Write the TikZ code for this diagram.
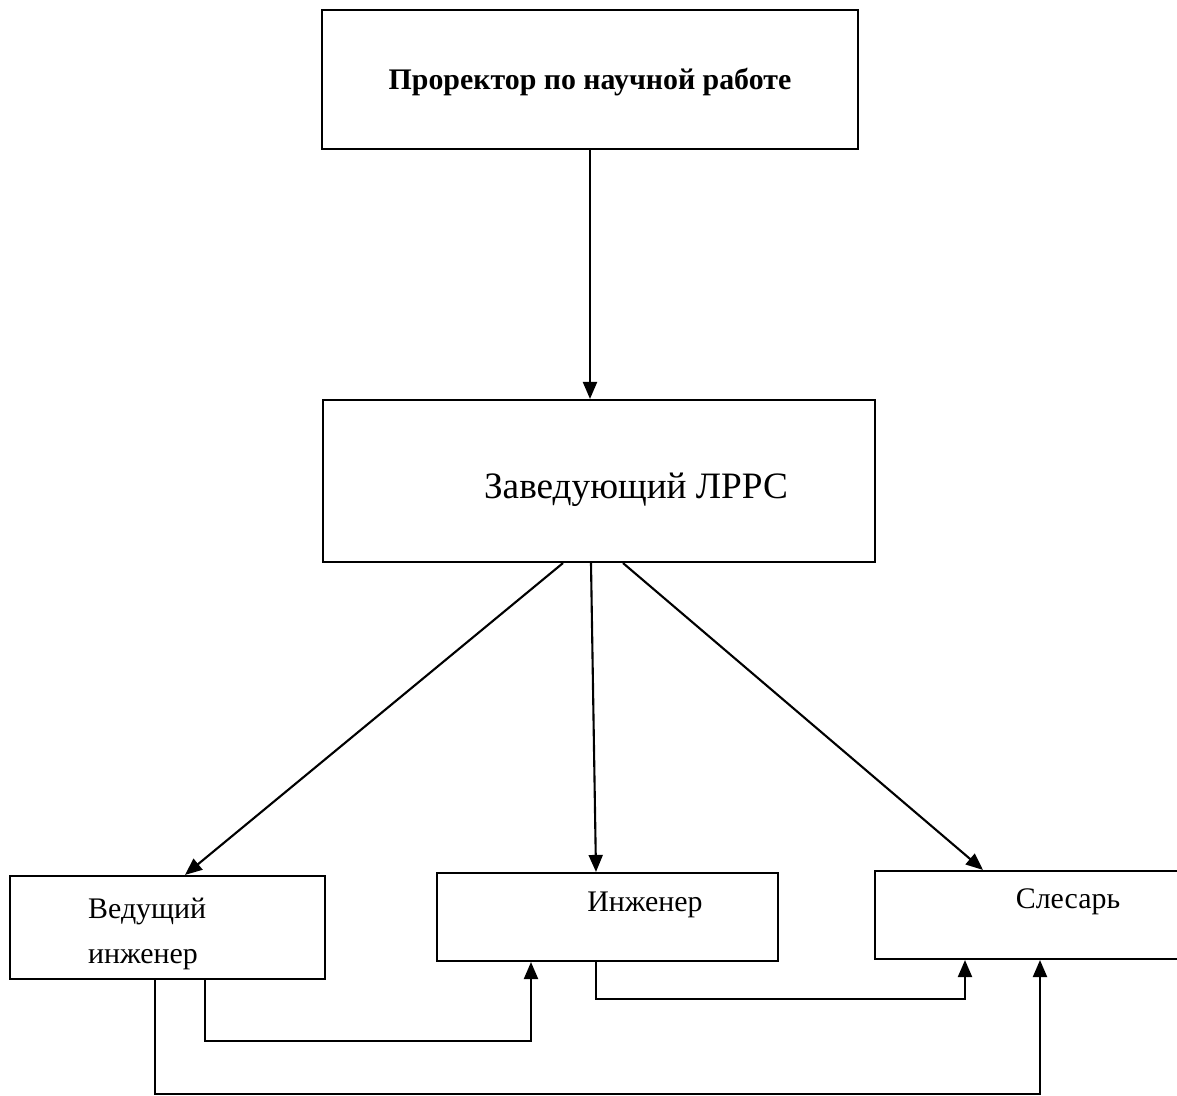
\documentclass[tikz,border=0pt]{standalone}
\usepackage{fontspec}
\setmainfont{Liberation Serif}
\usetikzlibrary{arrows.meta}

\tikzset{
	box/.style={draw, line width=1.2pt, inner sep=0pt},
	arr/.style={line width=1.2pt, -{Triangle[length=3.4mm,width=2.8mm]}},
	txt/.style={font=\fontsize{17}{26}\selectfont}
}

\begin{document}
\begin{tikzpicture}
	\useasboundingbox (0,0) rectangle (23.54,-21.92);
	\clip (0,0) rectangle (23.54,-21.92);
	\node (prorector) at (11.8,-1.59) [box, minimum width=10.72cm, minimum height=2.78cm] {};
	\node at (11.8,-1.64) [font=\fontsize{17}{20}\selectfont\bfseries] {Проректор по научной работе};
	\node (zav) at (11.98,-9.62) [box, minimum width=11.04cm, minimum height=3.24cm] {};
	\node at (12.72,-9.8) [font=\fontsize{21.2}{25}\selectfont] {Заведующий ЛРРС};
		\node (ved) at (3.35,-18.55) [box, minimum width=6.3cm, minimum height=2.06cm] {};
		\node at (1.64,-18.68) [txt, anchor=west, align=left] {Ведущий\\инженер};
		\node (inzh) at (12.15,-18.34) [box, minimum width=6.82cm, minimum height=1.76cm] {};
		\node at (12.9,-18.1) [txt] {Инженер};
		\node (sles) at (20.6,-18.3) [box, minimum width=6.2cm, minimum height=1.76cm] {};
		\node at (21.36,-18.04) [txt] {Слесарь};
	\draw[arr] (prorector.south) -- (prorector.south |- zav.north);
	\draw[arr] ([xshift=-0.72cm]zav.south) -- ([xshift=0.35cm]ved.north);
	\draw[arr] ([xshift=-0.16cm]zav.south) -- ([xshift=-0.23cm]inzh.north);
	\draw[arr] ([xshift=0.48cm]zav.south) -- ([xshift=-0.94cm]sles.north);
	\draw[arr] ([xshift=0.75cm]ved.south) -- ++(0,-1.22) -| ([xshift=-1.53cm]inzh.south);
	\draw[arr] ([xshift=-0.23cm]inzh.south) -- ++(0,-0.74) -| ([xshift=-1.3cm]sles.south);
	\draw[arr] ([xshift=-0.25cm]ved.south) -- ++(0,-2.28) -| ([xshift=0.2cm]sles.south);
\end{tikzpicture}
\end{document}
